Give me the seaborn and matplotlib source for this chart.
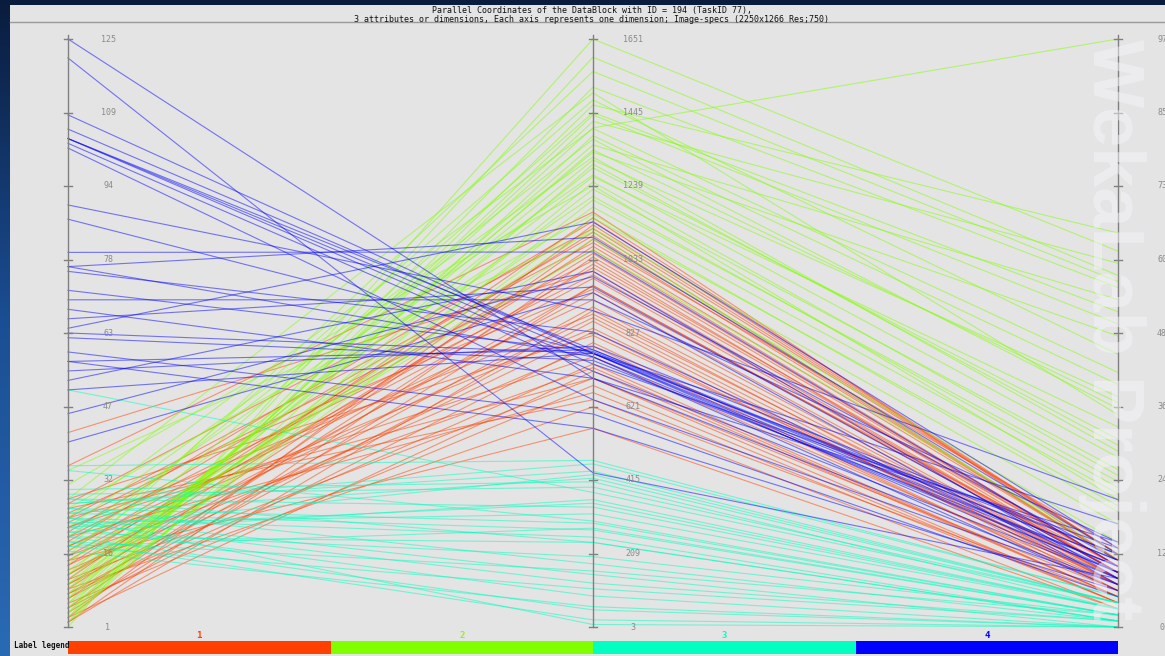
import matplotlib
matplotlib.use("Agg")
import matplotlib.pyplot as plt
from matplotlib.patches import Rectangle
import numpy as np
import pandas as pd
import seaborn as sns

# attribute ranges (min, max) for the three axes
ranges = [(1, 125), (3, 1651), (0, 97)]
tick_labels = [
    ["1", "16", "32", "47", "63", "78", "94", "109", "125"],
    ["3", "209", "415", "621", "827", "1033", "1239", "1445", "1651"],
    ["0", "12", "24", "36", "48", "60", "73", "85", "97"],
]

# cluster 1 (red)
c1_a1 = [42, 35, 28, 27, 26, 25, 24, 24, 23, 22, 22, 21, 20, 20, 19, 18, 18, 17, 16, 16,
         15, 15, 14, 14, 13, 12, 12, 11, 11, 10, 10, 9, 9, 8, 8, 7, 7, 6, 5, 5, 4, 3, 3, 2, 2]
c1_a2 = [1000, 1166, 820, 1120, 640, 950, 1080, 700, 1030, 880, 760, 1140, 990, 660, 1100,
         840, 920, 1060, 730, 980, 560, 1010, 870, 1110, 790, 1050, 940, 700, 1150, 830,
         960, 620, 1070, 900, 740, 1020, 860, 680, 1090, 800, 960, 1130, 720, 890, 1040]
c1_a3 = [9, 11, 8, 12, 5, 10, 13, 6, 9, 8, 7, 12, 9, 4, 11, 7, 8, 10, 5, 9, 3, 10, 7, 11, 6,
         10, 8, 4, 12, 7, 9, 3, 11, 8, 5, 10, 6, 4, 11, 6, 9, 12, 5, 7, 10]

# cluster 2 (green)
c2_a1 = [1, 2, 2, 3, 3, 4, 4, 5, 5, 6, 6, 7, 7, 8, 8, 9, 9, 10, 10, 11, 12, 12, 13, 14, 15,
         16, 17, 18, 20, 22, 24, 26, 28, 31, 34]
c2_a2 = [1651, 1600, 1380, 1516, 1300, 1466, 1250, 1438, 1200, 1420, 1150, 1402, 1340, 1354,
         1230, 1334, 1290, 1312, 1180, 1265, 1120, 1445, 1090, 1560, 1060, 1480, 1210, 1370,
         1270, 1320, 1400, 1160, 1500, 1240, 1110]
c2_a3 = [62, 58, 40, 56, 30, 65, 25, 50, 24, 60, 20, 97, 37, 54, 26, 48, 31, 38, 22, 33, 17,
         52, 14, 57, 12, 45, 23, 36, 28, 29, 42, 19, 35, 21, 11]

# cluster 3 (cyan)
c3_a1 = [51, 35, 34, 30, 29, 28, 28, 27, 26, 26, 25, 25, 24, 24, 23, 23, 22, 22, 21, 21, 20,
         20, 19, 19, 18, 18, 17, 27, 24, 22]
c3_a2 = [380, 470, 300, 410, 395, 240, 339, 460, 294, 180, 275, 420, 255, 150, 320, 126, 430,
         90, 200, 360, 51, 240, 23, 160, 110, 280, 60, 440, 10, 350]
c3_a3 = [4, 5, 2, 3, 4, 1, 3, 5, 2, 1, 2, 4, 1, 0, 3, 1, 4, 0, 2, 3, 0, 1, 0, 2, 1, 2, 0, 4, 0, 3]

# cluster 4 (blue)
c4_a1 = [125, 121, 109, 106, 104, 104, 104, 103, 102, 90, 87, 80, 77, 77, 76, 72, 70, 68, 66,
         64, 63, 59, 57, 57, 55, 53, 51, 46, 40, 62]
c4_a2 = [700, 435, 770, 770, 780, 760, 740, 720, 640, 890, 770, 1054, 1095, 760, 830, 775, 920,
         700, 956, 1138, 770, 600, 780, 560, 790, 1000, 770, 985, 940, 750]
c4_a3 = [14, 8, 12, 10, 11, 9, 13, 8, 7, 21, 17, 10, 12, 6, 9, 11, 14, 7, 9, 13, 8, 5, 10, 6,
         12, 8, 9, 11, 7, 10]

labels = ["1", "2", "3", "4"]
colors = {"1": "#ff4000", "2": "#80ff00", "3": "#00ffc0", "4": "#0000ff"}

clusters = {
    "1": (c1_a1, c1_a2, c1_a3),
    "2": (c2_a1, c2_a2, c2_a3),
    "3": (c3_a1, c3_a2, c3_a3),
    "4": (c4_a1, c4_a2, c4_a3),
}

# long format: one row per (line, axis)
rows = []
line_id = 0
for lab in labels:
    cols = clusters[lab]
    for i in range(len(cols[0])):
        for k in range(3):
            lo, hi = ranges[k]
            rows.append({"id": line_id, "label": lab, "axis": k,
                         "value": (cols[k][i] - lo) / (hi - lo)})
        line_id += 1
df = pd.DataFrame(rows)

W, H = 1165, 656
fig = plt.figure(figsize=(W / 100, H / 100), dpi=100)
fig.patch.set_facecolor("#0c2550")

# slide background gradient
bg = fig.add_axes([0, 0, 1, 1], zorder=-5)
grad = np.linspace(0, 1, 256).reshape(-1, 1)
bg.imshow(grad, aspect="auto", cmap=matplotlib.colors.LinearSegmentedColormap.from_list(
    "slide", ["#0a1c3e", "#1b4f95", "#2a6ab5"]), extent=[0, 1, 0, 1])
bg.axis("off")

# chart image panel
fig.patches.append(Rectangle((10 / W, 0), 1, (H - 5) / H, transform=fig.transFigure,
                             facecolor="#e4e4e4", edgecolor="none", zorder=-4))
fig.lines.append(plt.Line2D([10 / W, 1], [1 - 22 / H, 1 - 22 / H], transform=fig.transFigure,
                            color="#9a9a9a", lw=1))

fig.text(592 / W, 1 - 15 / H,
         "Parallel Coordinates of the DataBlock with ID = 194 (TaskID 77),\n"
         "3 attributes or dimensions, Each axis represents one dimension; Image-specs (2250x1266 Res;750)",
         ha="center", va="center", fontsize=6, family="DejaVu Sans Mono", linespacing=1.05,
         color="#111111")

ax = fig.add_axes([10 / W, 0, 1 - 10 / W, (H - 22) / H])
ax.set_facecolor("#e4e4e4")
ax.set_xlim(-58 / 525, (W - 68) / 525)
ax.set_ylim(-(H - 627) / 588, 1 + (39 - 22) / 588)
ax.axis("off")

sns.lineplot(data=df, x="axis", y="value", hue="label", units="id", estimator=None,
             palette=colors, hue_order=labels, lw=0.8, alpha=0.5, legend=False, ax=ax)

# axes and ticks
for k in range(3):
    ax.plot([k, k], [0, 1 + 4 / 588], color="#808080", lw=1, zorder=3)
    label_x = k + 40 / 525 if k < 2 else k + 44 / 525
    for j, t in enumerate(tick_labels[k]):
        y = j / 8
        ax.plot([k - 4 / 525, k + 4 / 525], [y, y], color="#808080", lw=1, zorder=3)
        ax.text(label_x, y, t, ha="center", va="center", fontsize=6,
                family="DejaVu Sans Mono", color="#8a8a8a", clip_on=False)

# label legend
for i, lab in enumerate(labels):
    ax.add_patch(Rectangle((i * 0.5, -(654 - 627) / 588), 0.5, 13 / 588,
                           facecolor=colors[lab], edgecolor="none", clip_on=False))
    ax.text(i * 0.5 + 0.25, -(636 - 627) / 588, lab, ha="center", va="center", fontsize=6.5,
            family="DejaVu Sans Mono", fontweight="bold", color=colors[lab], zorder=6)
ax.text(-54 / 525, -(645 - 627) / 588, "Label legend", ha="left", va="center", fontsize=5.5,
        family="DejaVu Sans Mono", fontweight="bold", color="#111111")

# watermark
ax.text((1112 - 68) / 525, (627 - 330) / 588, "WekaLab Project", rotation=270, ha="center",
        va="center", fontsize=52, fontweight="bold", family="Liberation Sans",
        color="#f6f6fc", alpha=0.5, zorder=5)

fig.savefig("out.png", dpi=100, facecolor=fig.get_facecolor())
